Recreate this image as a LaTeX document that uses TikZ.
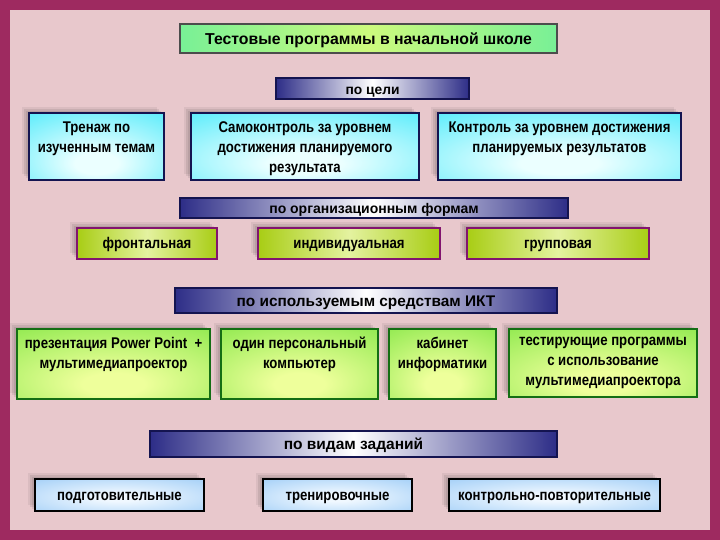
\documentclass[tikz,border=0pt]{standalone}
\usepackage{fontspec}
\setmainfont{Liberation Sans}
\newfontfamily\narrowfont[FakeStretch=0.85]{Liberation Sans}
\usepackage{tikz}
\usetikzlibrary{positioning}
\usetikzlibrary{shadows}
\definecolor{framecol}{RGB}{158,42,96}
\definecolor{pinkbg}{RGB}{232,200,204}
\definecolor{titlegreen}{RGB}{120,240,150}
\definecolor{titlemid}{RGB}{205,250,125}
\definecolor{bannerdark}{RGB}{45,45,135}
\definecolor{bannerline}{RGB}{20,20,80}
\definecolor{aquaout}{RGB}{45,230,250}
\definecolor{aquain}{RGB}{235,255,255}
\definecolor{olivebox}{RGB}{168,205,20}
\definecolor{olivemid}{RGB}{228,242,160}
\definecolor{plumline}{RGB}{130,20,110}
\definecolor{limeout}{RGB}{120,228,60}
\definecolor{limein}{RGB}{238,255,155}
\definecolor{forestline}{RGB}{20,110,20}
\definecolor{skyout}{RGB}{140,195,245}
\definecolor{skyin}{RGB}{240,248,255}
% glows with their centre a little below the middle
\pgfdeclareradialshading{aquaglow}{\pgfpoint{0bp}{-14bp}}{color(0bp)=(aquain); color(8bp)=(aquain); color(52bp)=(aquaout); color(80bp)=(aquaout)}
\pgfdeclareradialshading{limeglow}{\pgfpoint{0bp}{-16bp}}{color(0bp)=(limein); color(8bp)=(limein); color(52bp)=(limeout); color(80bp)=(limeout)}
\pgfdeclareradialshading{skyglow}{\pgfpoint{0bp}{-4bp}}{color(0bp)=(skyin); color(6bp)=(skyin); color(48bp)=(skyout); color(80bp)=(skyout)}
\tikzset{
  boxshade/.style = {
    general shadow={shadow xshift=-7pt, shadow yshift=6pt, fill=black, opacity=.06},
    general shadow={shadow xshift=-5pt, shadow yshift=4pt, fill=black, opacity=.08},
    general shadow={shadow xshift=-3pt, shadow yshift=2pt, fill=black, opacity=.08}},
  titlebox/.style = {draw=black!70, line width=1.2pt, left color=titlegreen, right color=titlegreen,
    middle color=titlemid, font=\bfseries\fontsize{15.8}{18}\selectfont, inner sep=0,
    text height=13pt, text depth=0pt},
  banner/.style = {draw=bannerline, line width=1.2pt, left color=bannerdark, right color=bannerdark,
    middle color=white, inner sep=0, text height=12pt, text depth=0.5pt},
  aquabox/.style = {boxshade, draw=bannerline, line width=2.2pt, shading=aquaglow},
  olivecell/.style = {boxshade, draw=plumline, line width=2.6pt, left color=olivebox, right color=olivebox,
    middle color=olivemid, font=\narrowfont\bfseries\fontsize{15.5}{18}\selectfont, inner sep=0,
    text height=11pt, text depth=0.5pt},
  limebox/.style = {boxshade, draw=forestline, line width=2.6pt, shading=limeglow},
  skycell/.style = {boxshade, draw=black, line width=2.6pt, shading=skyglow,
    font=\narrowfont\bfseries\fontsize{15.5}{18}\selectfont, inner sep=0,
    text height=11pt, text depth=0.5pt},
  boxtext/.style = {align=center, inner sep=0, font=\narrowfont\bfseries\fontsize{15.5}{20}\selectfont}
}

\begin{document}
\begin{tikzpicture}[x=1pt, y=-1pt]
  \useasboundingbox (0,0) rectangle (720,540);
  % frame and background
  \fill[framecol] (0,0) rectangle (720,540);
  \fill[pinkbg] (10,10) rectangle (710,530);

  \node[titlebox, minimum width=377, minimum height=29] (title) at (368.5,38.5)
    {Тестовые программы в начальной школе};

  % goals
  \node[banner, minimum width=193, minimum height=21, font=\bfseries\fontsize{13.8}{16}\selectfont]
    (goal) at (372.5,88.5) {по цели};
  \node[aquabox, minimum width=135, minimum height=67] (drill) at (96.5,146.5) {};
  \node[aquabox, minimum width=228, minimum height=67] (selfctl) at (305,146.5) {};
  \node[aquabox, minimum width=243, minimum height=67] (ctl) at (559.5,146.5) {};
  \node[boxtext, below=10pt of drill.north] (drilltxt) {Тренаж по\\изученным темам};
  \node[boxtext, below=10pt of selfctl.north] (selfctltxt) {Самоконтроль за уровнем\\достижения планируемого\\результата};
  \node[boxtext, below=10pt of ctl.north] (ctltxt) {Контроль за уровнем достижения\\планируемых результатов};

  % forms
  \node[banner, minimum width=388, minimum height=20, font=\bfseries\fontsize{14}{16}\selectfont]
    (forms) at (374,208) {по организационным формам};
  \node[olivecell, minimum width=140, minimum height=31] (front) at (147,243.5) {фронтальная};
  \node[olivecell, minimum width=182, minimum height=31] (indiv) at (349,243.5) {индивидуальная};
  \node[olivecell, minimum width=182, minimum height=31] (group) at (558,243.5) {групповая};

  % ICT
  \node[banner, minimum width=382, minimum height=25, font=\bfseries\fontsize{15.4}{18}\selectfont]
    (ict) at (366,300.5) {по используемым средствам ИКТ};
  \node[limebox, minimum width=193, minimum height=70] (pres) at (113.5,364) {};
  \node[limebox, minimum width=157, minimum height=70] (pc) at (299.5,364) {};
  \node[limebox, minimum width=107, minimum height=70] (lab) at (442.5,364) {};
  \node[limebox, minimum width=188, minimum height=68] (tests) at (603,363) {};
  \node[boxtext, below=9pt of pres.north] (prestxt) {презентация Power Point \ +\\мультимедиапроектор};
  \node[boxtext, below=9pt of pc.north] (pctxt) {один персональный\\компьютер};
  \node[boxtext, below=9pt of lab.north] (labtxt) {кабинет\\информатики};
  \node[boxtext, below=9pt of tests.north] (teststxt) {тестирующие программы\\с использование\\мультимедиапроектора};

  % tasks
  \node[banner, minimum width=407, minimum height=26, font=\bfseries\fontsize{15.5}{18}\selectfont]
    (tasks) at (353.5,444) {по видам заданий};
  \node[skycell, minimum width=169, minimum height=32] (prep) at (119.5,495) {подготовительные};
  \node[skycell, minimum width=149, minimum height=32] (train) at (337.5,495) {тренировочные};
  \node[skycell, minimum width=211, minimum height=32] (review) at (554.5,495) {контрольно-повторительные};
\end{tikzpicture}
\end{document}
